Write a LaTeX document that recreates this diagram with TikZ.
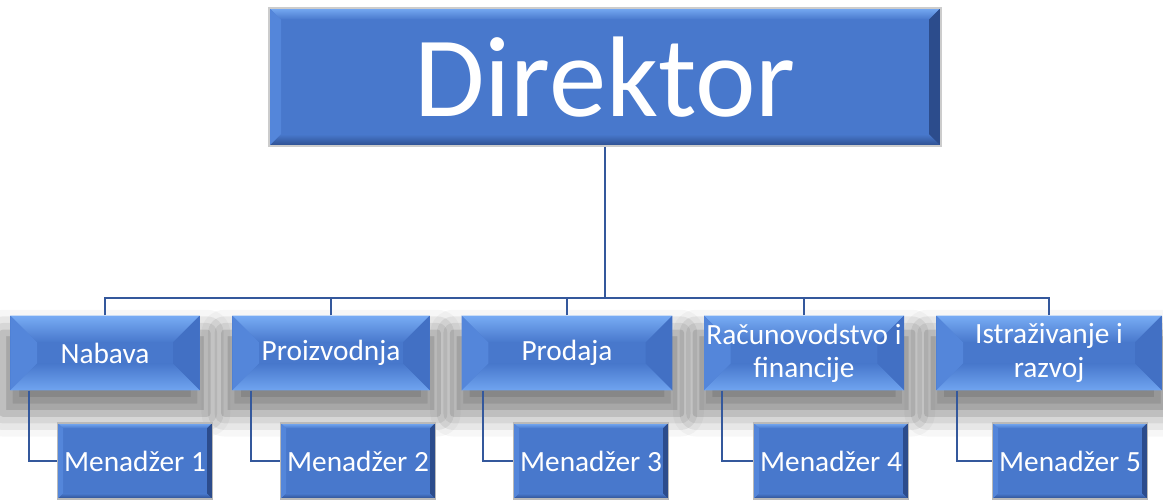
\documentclass[tikz,border=0pt]{standalone}
\usepackage{fontspec}
\setmainfont{Carlito}
\usetikzlibrary{shadows.blur}
\definecolor{boxblue}{RGB}{72,120,204}
\definecolor{bevlight}{RGB}{120,172,244}
\definecolor{bevmid}{RGB}{84,134,218}
\definecolor{bevdark}{RGB}{66,112,196}
\definecolor{bevdeep}{RGB}{44,76,140}
\definecolor{bevlow}{RGB}{112,164,240}
\definecolor{linkblue}{RGB}{52,88,156}
% bevel drawn inside a node: depth, colour at the lower edge, colour of the right side
\def\bevel#1#2#3{%
  \coordinate (nw) at (path picture bounding box.north west);
  \coordinate (ne) at (path picture bounding box.north east);
  \coordinate (sw) at (path picture bounding box.south west);
  \coordinate (se) at (path picture bounding box.south east);
  \shade[top color=bevlight, bottom color=boxblue] (nw) -- (ne) -- ([xshift=-#1,yshift=-#1]ne) -- ([xshift=#1,yshift=-#1]nw) -- cycle;
  \fill[bevmid] (nw) -- ([xshift=#1,yshift=-#1]nw) -- ([xshift=#1,yshift=#1]sw) -- (sw) -- cycle;
  \fill[#3] (ne) -- ([xshift=-#1,yshift=-#1]ne) -- ([xshift=-#1,yshift=#1]se) -- (se) -- cycle;
  \shade[top color=boxblue, bottom color=#2] (sw) -- ([xshift=#1,yshift=#1]sw) -- ([xshift=-#1,yshift=#1]se) -- (se) -- cycle;}
\tikzset{
  chief/.style={fill=boxblue, draw=gray!40, line width=1.5pt, inner sep=0pt,
    minimum width=504pt, minimum height=104pt, text=white,
    font=\fontsize{86}{86}\selectfont, path picture={\bevel{9pt}{bevdeep}{bevdeep}}},
  dept/.style={fill=boxblue, inner sep=0pt, minimum height=56pt, text=white,
    align=center, font=\fontsize{22}{25}\selectfont,
    path picture={\bevel{20pt}{bevlow}{bevdark}},
    blur shadow={shadow xshift=0pt, shadow yshift=-14pt, shadow scale=1.08,
      shadow blur radius=16pt, shadow opacity=50}},
  mgr/.style={fill=boxblue, draw=gray!55, line width=1pt, inner sep=0pt,
    minimum width=116pt, minimum height=57pt, text=white,
    font=\fontsize{22}{24}\selectfont, path picture={\bevel{4pt}{bevdeep}{bevdeep}}},
  link/.style={draw=linkblue, line width=1.6pt}
}
\begin{document}
\begin{tikzpicture}[x=0.75pt,y=-0.75pt]
	%%%%% START %%%%%
	\useasboundingbox (0,0) rectangle (1163,501);
	
	\coordinate (bus) at (0,298);
	
	\node[chief] (dir) at (605,77) {Direktor};
	
	\node[dept, minimum width=142pt] (nab) at (105,353) {Nabava};
	\node[dept, minimum width=148pt] (pro) at (331,353) {Proizvodnja};
	\node[dept, minimum width=158pt] (prd) at (567,353) {Prodaja};
	\node[dept, minimum width=150pt] (rac) at (804,353) {Računovodstvo i\\financije};
	\node[dept, minimum width=169pt] (ist) at (1049,353) {Istraživanje i\\razvoj};
	
	\node[mgr] (m1) at (135,461) {Menadžer 1};
	\node[mgr] (m2) at (358,461) {Menadžer 2};
	\node[mgr] (m3) at (591,461) {Menadžer 3};
	\node[mgr] (m4) at (831,461) {Menadžer 4};
	\node[mgr] (m5) at (1070,461) {Menadžer 5};
	
	\draw[link] (dir.south) -- (dir.south |- bus);
	\draw[link] (nab.north) |- (dir.south |- bus);
	\draw[link] (pro.north) |- (dir.south |- bus);
	\draw[link] (prd.north) |- (dir.south |- bus);
	\draw[link] (rac.north) |- (dir.south |- bus);
	\draw[link] (ist.north) |- (dir.south |- bus);
	
	\draw[link] ([xshift=14pt]nab.south west) |- (m1.west);
	\draw[link] ([xshift=14pt]pro.south west) |- (m2.west);
	\draw[link] ([xshift=16pt]prd.south west) |- (m3.west);
	\draw[link] ([xshift=14pt]rac.south west) |- (m4.west);
	\draw[link] ([xshift=16pt]ist.south west) |- (m5.west);
	
	%%%%% END %%%%%
\end{tikzpicture}
\end{document}
